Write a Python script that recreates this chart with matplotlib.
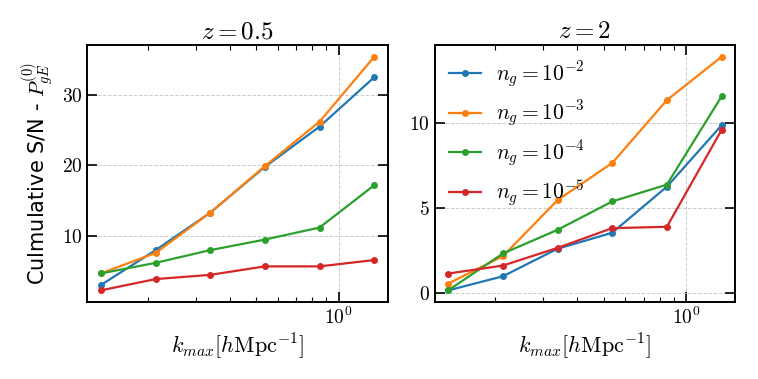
import matplotlib
matplotlib.use("Agg")
import matplotlib.pyplot as plt
from matplotlib.ticker import MultipleLocator

plt.rcParams['font.family'] = 'serif'
plt.rcParams['font.serif'] = ['cmr10']
plt.rcParams['mathtext.fontset'] = 'cm'
plt.rcParams['axes.formatter.use_mathtext'] = True

# k_max values (h/Mpc)
kmax = [0.135, 0.214, 0.339, 0.537, 0.851, 1.349]

# cumulative S/N, z = 0.5
snr_z05 = {
    '-2': [3.05, 8.0, 13.3, 19.8, 25.5, 32.5],
    '-3': [4.7, 7.6, 13.3, 19.9, 26.2, 35.4],
    '-4': [4.7, 6.2, 8.0, 9.5, 11.2, 17.2],
    '-5': [2.3, 3.9, 4.5, 5.7, 5.7, 6.6],
}
# cumulative S/N, z = 2
snr_z2 = {
    '-2': [0.15, 0.98, 2.6, 3.54, 6.25, 9.86],
    '-3': [0.55, 2.16, 5.46, 7.64, 11.34, 13.89],
    '-4': [0.15, 2.32, 3.71, 5.38, 6.37, 11.56],
    '-5': [1.14, 1.61, 2.65, 3.81, 3.89, 9.59],
}
titles = [r'$z=0.5$', r'$z=2$']

fig, axes = plt.subplots(1, 2, figsize=(7.58, 3.79), dpi=100)
fig.subplots_adjust(left=0.115, right=0.97, bottom=0.203, top=0.881, wspace=0.155)

for ax, data, title in zip(axes, [snr_z05, snr_z2], titles):
    for n, vals in data.items():
        ax.plot(kmax, vals, marker='o', ms=4, lw=1.6,
                label=r'$n_g = 10^{%s}$' % n)
    ax.set_xscale('log')
    ax.set_title(title, fontsize=18, pad=5)
    ax.set_xlabel(r'$k_{max} [h \mathrm{Mpc}^{-1}]$', fontsize=16, labelpad=2)
    ax.grid(True, ls='--', color='#cccccc', lw=0.7)
    ax.tick_params(which='both', direction='in', top=True, right=True, labelsize=14)
    ax.tick_params(which='major', length=7, width=1.2)
    ax.tick_params(which='minor', length=3.5, width=0.8)
    for s in ax.spines.values():
        s.set_linewidth(1.4)

axes[0].yaxis.set_major_locator(MultipleLocator(10))
axes[1].yaxis.set_major_locator(MultipleLocator(5))
axes[0].set_ylabel(r'Culmulative S/N - $P_{gE}^{(0)}$', fontsize=15, family='DejaVu Sans')
axes[1].legend(loc='upper left', frameon=False, fontsize=15.5, handlelength=1.5,
               handletextpad=0.7, labelspacing=0.42, borderaxespad=0.25)

fig.savefig('out.png', dpi=100)
